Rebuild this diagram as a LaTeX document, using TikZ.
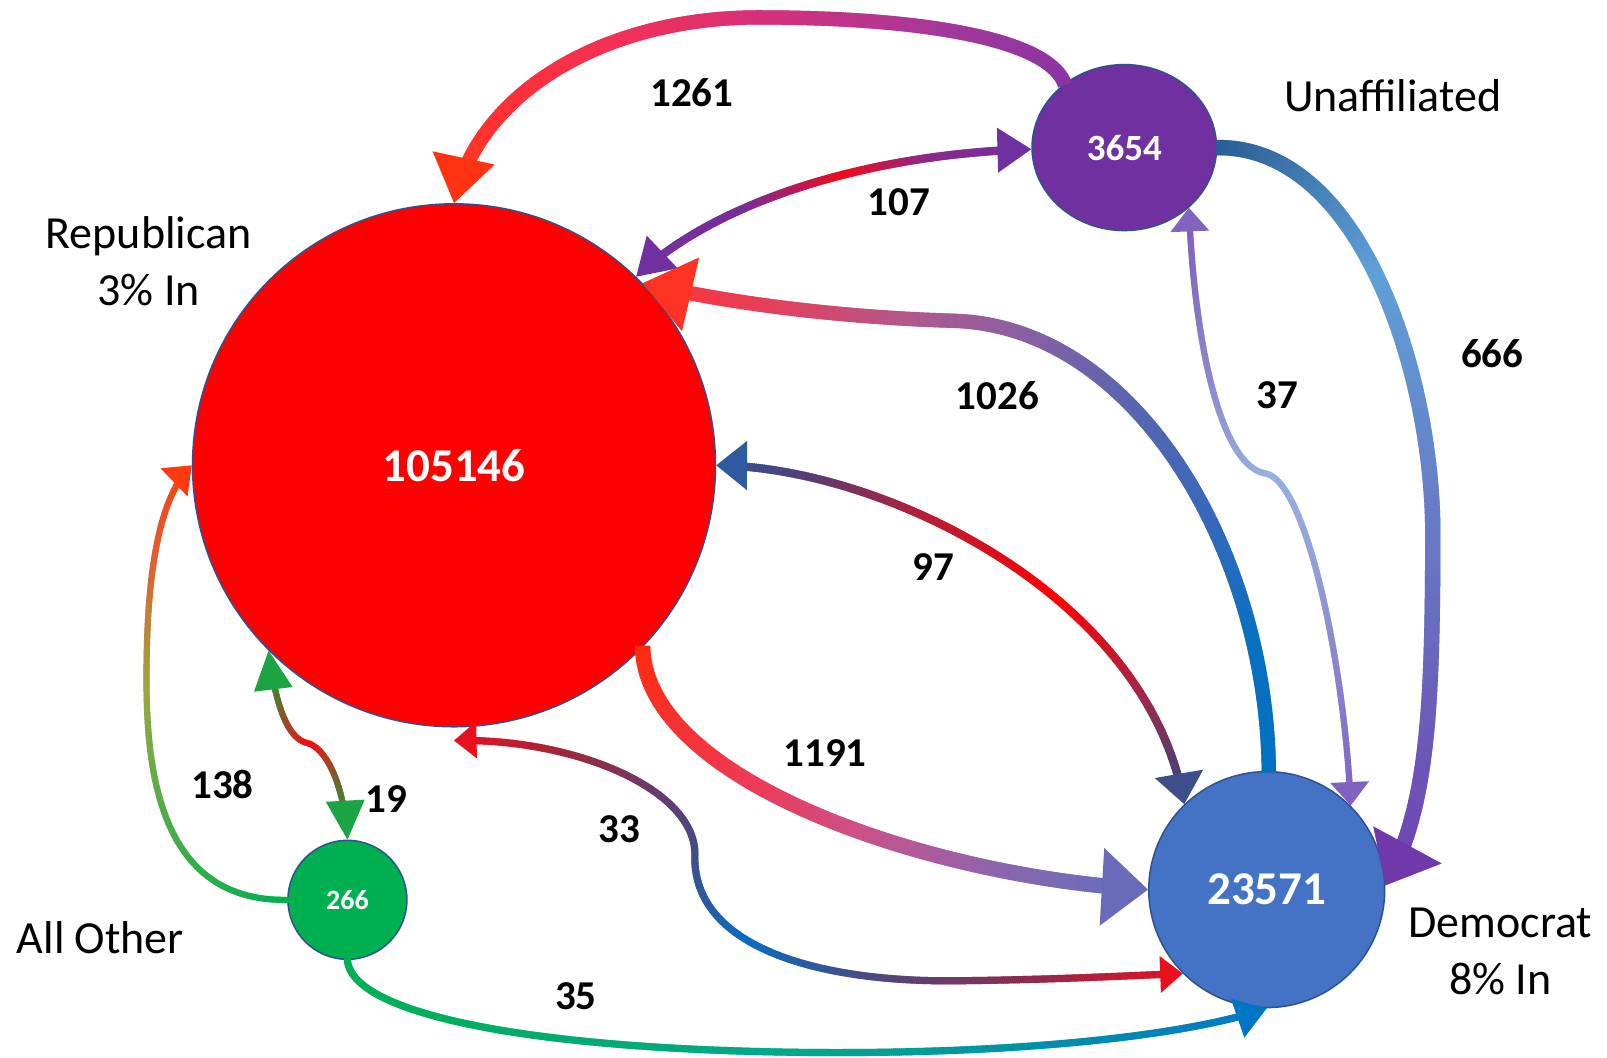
\documentclass[tikz,border=0pt]{standalone}
\usepackage{fontspec}
\setmainfont{Carlito}
\usetikzlibrary{decorations.markings,shapes.geometric}

\definecolor{nodeborder}{HTML}{2F528F}
\definecolor{repred}{HTML}{FF0000}
\definecolor{unaffpurple}{HTML}{7030A0}
\definecolor{demblue}{HTML}{4472C4}
\definecolor{othergreen}{HTML}{00B050}
\colorlet{gcur}{black}

\newcommand\gmark{%
  \pgfmathsetmacro\gf{max(0,min(1,\pgfkeysvalueof{/pgf/decoration/mark info/distance from start}/\pgfdecoratedpathlength))}%
  \foreach \p/\c [remember=\p as \pp (initially 0), remember=\c as \cc (initially 000000)] in \gstops {%
    \ifdim\p pt>\pp pt\relax
      \ifdim\gf pt<\pp pt\relax\else
        \ifdim\gf pt>\p pt\relax\else
          \pgfmathtruncatemacro\gpct{100*(\gf-\pp)/(\p-\pp)}%
          \definecolor{gcA}{HTML}{\cc}\definecolor{gcB}{HTML}{\c}%
          \xglobal\colorlet{gcur}{gcB!\gpct!gcA}%
        \fi
      \fi
    \fi
  }%
  \fill[gcur] (-1.6,-\gw) rectangle (1.6,\gw);%
}
\newcommand\ahead[3]{\definecolor{ahc}{HTML}{#3}\fill[ahc] (0,0) -- (-#1,#2) -- (-#1,-#2) -- cycle;}
\newcommand\atail[3]{\definecolor{ahc}{HTML}{#3}\fill[ahc] (0,0) -- (#1,#2) -- (#1,-#2) -- cycle;}

\tikzset{
  gset/.code 2 args={\def\gw{#1}\def\gstops{#2}},
  flow/.style 2 args={postaction={decorate,decoration={markings,mark=between positions #1 and #2 step 2pt with {\gmark}}}},
  headend/.style n args={3}{postaction={decorate,decoration={markings,mark=at position 0.99995 with {\ahead{#1}{#2}{#3}}}}},
  headstart/.style n args={3}{postaction={decorate,decoration={markings,mark=at position 0 with {\atail{#1}{#2}{#3}}}}},
  lbl/.style={font=\fontsize{41}{49}\selectfont\bfseries, text=black, inner sep=0pt},
  party/.style={font=\fontsize{46}{57}\selectfont, align=center, inner sep=0pt},
  bubble/.style={draw=nodeborder, line width=1.5pt, text=white, inner sep=0pt}
}

\begin{document}
\begin{tikzpicture}[x=1.025pt,y=-1.025pt]
\useasboundingbox (0,0) rectangle (1568,1032);
\fill[white] (0,0) rectangle (1568,1032);

% nodes
\node[bubble, circle, fill=repred, minimum size=523pt, font=\fontsize{47}{56}\selectfont\bfseries] (rep) at (443,454) {105146};
\node[bubble, ellipse, fill=unaffpurple, minimum width=184.5pt, minimum height=166pt, font=\fontsize{37}{44}\selectfont\bfseries] (unaff) at (1097,144) {3654};
\node[bubble, circle, fill=demblue, minimum size=236pt, font=\fontsize{47}{56}\selectfont\bfseries] (dem) at (1236,868) {23571};
\node[bubble, circle, fill=othergreen, minimum size=119pt, font=\fontsize{28}{34}\selectfont\bfseries] (other) at (339,878) {266};

% party labels
\node[party] (lrep) at (145,255) {Republican\\3\% In};
\node[party] (lunaff) at (1359,93) {Unaffiliated};
\node[party] (lother) at (98,915) {All Other};
\node[party] (ldem) at (1464,928) {Democrat\\8\% In};

% connectors
% 1261
\path[gset={7}{0/8A34A4, 0.2/A4389A, 0.45/D6307A, 0.65/F23058, 0.85/FF3034, 1/FF3A18}, flow={0pt}{-40pt}, headend={45}{31}{FF3311}]
 (unaff.133) .. controls (1022,38) and (900,17) .. (740,17) .. controls (590,17) and (466,90) .. (rep.north);
% 107
\path[gset={4}{0/7030A0, 0.3/7A2C98, 0.55/F00A1A, 0.75/8A2A8A, 1/7030A0}, flow={32pt}{-30pt}, headstart={35}{22}{7030A0}, headend={33}{22}{7030A0}]
 (rep.46) .. controls (700,195) and (850,150) .. (unaff.181);
% 1026
\path[gset={7}{0/0070C0, 0.15/0A70C0, 0.3/3A68BA, 0.45/5E64B0, 0.58/8A60A2, 0.7/B0588E, 0.85/E4405E, 1/FF3030}, flow={0pt}{-44pt}, headend={48}{37}{FF3322}]
 (dem.89) .. controls (1236,540) and (1110,318) .. (930,313) .. controls (830,310) and (720,298) .. (rep.44);
% 666
\path[gset={7.5}{0/2A5E94, 0.25/5FA0D8, 0.5/6682C8, 0.75/6A62BA, 1/7040B0}, flow={0pt}{-42pt}, headend={45}{38}{7038A8}]
 (unaff.east) .. controls (1330,143) and (1398,370) .. (1398,520) .. controls (1398,700) and (1392,790) .. (dem.2);
% 37
\path[gset={3}{0/7E5CBE, 0.25/8A84CC, 0.45/98B0E0, 0.6/93A2DA, 1/8060C2}, flow={20pt}{-20pt}, headstart={23}{19}{8064C0}, headend={23}{19}{8262C0}]
 (unaff.-43) .. controls (1165,330) and (1190,455) .. (1235,462) .. controls (1275,470) and (1312,650) .. (dem.45);
% 97
\path[gset={4}{0/2F559A, 0.15/583C74, 0.35/B81E34, 0.6/FF0000, 0.8/A42846, 0.92/5C3A6C, 1/3E4C88}, flow={27pt}{-27pt}, headstart={30}{24}{2F5B9E}, headend={30}{24}{3E4E88}]
 (rep.east) .. controls (860,455) and (1120,580) .. (dem.134);
% 1191
\path[gset={7.5}{0/FF2A10, 0.3/EE3A55, 0.5/CC5088, 0.75/8A66AE, 1/5E70C0}, flow={0pt}{-42pt}, headend={45}{38}{6A6ABA}]
 (rep.-44) .. controls (630,760) and (900,855) .. (dem.west);
% 33
\path[gset={3.5}{0/E81020, 0.12/A82438, 0.25/6A3A6A, 0.35/3E4E8C, 0.47/0A6CC0, 0.62/4A4A84, 0.8/8A2C52, 1/E81020}, flow={19pt}{-19pt}, headstart={22}{18}{E8101C}, headend={22}{18}{E8101C}]
 ([yshift=-13pt]rep.south) .. controls (560,720) and (680,770) .. (678,835) .. controls (676,925) and (800,958) .. (930,957) .. controls (1030,956) and (1100,952) .. (dem.-135);
% 35
\path[gset={3.5}{0/00B050, 0.5/00A88C, 1/0078C8}, flow={0pt}{-27pt}, headend={30}{20}{0074C4}]
 (other.south) .. controls (343,990) and (520,1025) .. (800,1027) .. controls (1000,1028) and (1160,1010) .. (dem.south);
% 138
\path[gset={3}{0/00B050, 0.3/4CAE48, 0.55/9AA840, 0.8/E06030, 1/FF3A10}, flow={0pt}{-21pt}, headend={24}{19}{FF3A10}]
 (other.west) .. controls (150,880) and (142,740) .. (143,650) .. controls (144,540) and (160,480) .. (rep.west);
% 19
\path[gset={3}{0/20A040, 0.25/607030, 0.5/F01010, 0.75/607030, 1/10A848}, flow={34pt}{-34pt}, headstart={38}{19}{1CA444}, headend={38}{19}{1CA444}]
 (rep.-135) .. controls (270,700) and (285,722) .. (300,725) .. controls (318,730) and (336,765) .. (other.north);

% edge labels
\node[lbl] (n1261) at (675,90) {1261};
\node[lbl] (n107) at (877,197) {107};
\node[lbl] (n1026) at (973,386) {1026};
\node[lbl] (n37) at (1246,386) {37};
\node[lbl] (n666) at (1456,345) {666};
\node[lbl] (n97) at (911,553) {97};
\node[lbl] (n1191) at (805,735) {1191};
\node[lbl] (n33) at (604,809) {33};
\node[lbl] (n35) at (562,972) {35};
\node[lbl] (n138) at (217,765) {138};
\node[lbl] (n19) at (377,780) {19};
\end{tikzpicture}
\end{document}
